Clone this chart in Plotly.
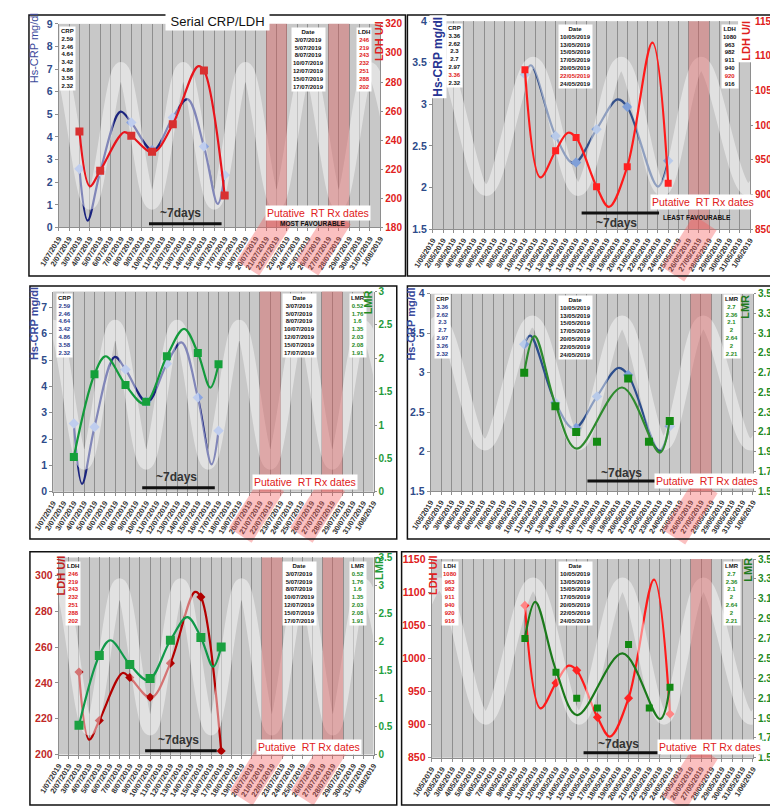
import plotly.graph_objects as go

W, H = 778, 806

# ---- measured values (tables in the chart) ----
july_dates = ["2019-07-03", "2019-07-05", "2019-07-08", "2019-07-10", "2019-07-12", "2019-07-15", "2019-07-17"]
july_crp = [2.59, 2.46, 4.64, 3.42, 4.86, 3.58, 2.32]
july_ldh = [246, 219, 243, 232, 251, 288, 202]
july_lmr = [0.52, 1.76, 1.6, 1.35, 2.03, 2.08, 1.91]

may_dates = ["2019-05-10", "2019-05-13", "2019-05-15", "2019-05-17", "2019-05-20", "2019-05-22", "2019-05-24"]
may_crp = [3.36, 2.62, 2.3, 2.7, 2.97, 3.36, 2.32]
may_crp_lmr_panel = [3.36, 2.62, 2.3, 2.7, 2.97, 3.26, 2.32]
may_ldh = [1080, 963, 982, 911, 940, 920, 916]
may_lmr = [2.7, 2.36, 2.1, 2, 2.64, 2, 2.21]
may_flagged = 5  # 22/05 row, not plotted for CRP / LDH

# ---- trend curves (knots) ----
crp_jul_fit_x = ["2019-07-03", "2019-07-03 19:00", "2019-07-05", "2019-07-06 23:00", "2019-07-08", "2019-07-10 02:00",
                 "2019-07-12", "2019-07-13 10:00", "2019-07-15", "2019-07-16 08:00", "2019-07-17"]
crp_jul_fit_y = [2.59, 0.3, 2.46, 5.12, 4.64, 3.4, 4.86, 5.67, 3.58, 1.04, 2.32]

ldh_jul_fit_x = ["2019-07-03", "2019-07-04", "2019-07-05", "2019-07-07 07:00", "2019-07-08", "2019-07-10 02:00",
                 "2019-07-12", "2019-07-14 10:00", "2019-07-15", "2019-07-17"]
ldh_jul_fit_y = [246, 208.3, 219, 245.5, 243, 231.6, 251, 290.8, 288, 202]

lmr_jul_fit_x = ["2019-07-03", "2019-07-05", "2019-07-06 02:00", "2019-07-08", "2019-07-09 20:00", "2019-07-12",
                 "2019-07-13 16:00", "2019-07-15", "2019-07-16 05:00", "2019-07-17"]
lmr_jul_fit_y = [0.52, 1.76, 2.03, 1.6, 1.32, 2.03, 2.44, 2.08, 1.56, 1.91]

crp_may_fit_x = ["2019-05-10", "2019-05-10 14:00", "2019-05-13", "2019-05-14 19:00", "2019-05-17", "2019-05-19 01:00",
                 "2019-05-20", "2019-05-23", "2019-05-24"]
crp_may_fit_y = [3.36, 3.47, 2.62, 2.29, 2.7, 3.06, 2.97, 2.01, 2.32]

ldh_may_fit_x = ["2019-05-10", "2019-05-11 12:00", "2019-05-13", "2019-05-14 05:00", "2019-05-15", "2019-05-17",
                 "2019-05-18 05:00", "2019-05-20", "2019-05-22 11:00", "2019-05-24"]
ldh_may_fit_y = [1080, 924.5, 963, 989, 982, 911, 882, 940, 1119, 916]

lmr_may_fit_x = ["2019-05-10", "2019-05-11", "2019-05-13", "2019-05-15 01:00", "2019-05-19 10:00", "2019-05-23 01:00",
                 "2019-05-24"]
lmr_may_fit_y = [2.7, 3.07, 2.38, 1.93, 2.55, 1.89, 2.23]

# white background wave: trough / peak dates
wave_jul_x = ["2019-06-28", "2019-07-01", "2019-07-04", "2019-07-07", "2019-07-10", "2019-07-13", "2019-07-16",
              "2019-07-19", "2019-07-22", "2019-07-25", "2019-07-28", "2019-07-31", "2019-08-03"]
wave_may_x = ["2019-04-27 10:00", "2019-05-01 19:00", "2019-05-06 05:00", "2019-05-10 19:00", "2019-05-15 05:00",
              "2019-05-19 10:00", "2019-05-23 10:00", "2019-05-27 05:00", "2019-05-31 19:00", "2019-06-05"]

# putative RT dates (shaded)
rt_jul = [("2019-07-21", "2019-07-23"), ("2019-07-27", "2019-07-29")]
rt_may = [("2019-05-26", "2019-05-28")]


def px(x):
    return x / W


def py(y):
    return 1 - y / H


def yid(k):
    return "y" if k == 1 else f"y{k}"


def label(d):
    y, m, dd = d.split("-")
    return f"{int(dd)}/{m}/{y}"


fig = go.Figure()
layout = {}
shapes = []
annotations = []

panels = [
    dict(n=1, box=(31.7, 364, 10, 216.7), month="jul",
         left=dict(name="CRP", range=[0, 9], dtick=1, tick0=0, color="#2e4b8a"),
         right=dict(name="LDH", range=[180, 320], dtick=20, tick0=180, color="#e02020"),
         wave=(7.05, 1.05)),
    dict(n=2, box=(418.3, 746, 7.3, 218.3), month="may",
         left=dict(name="CRP", range=[1.5, 4], dtick=0.5, tick0=1.5, color="#2e4b8a"),
         right=dict(name="LDH", range=[850, 1150], dtick=50, tick0=850, color="#e02020"),
         wave=(3.5, 1.97)),
    dict(n=3, box=(26, 357, 281.7, 485), month="jul",
         left=dict(name="CRP", range=[0, 7.6], dtick=1, tick0=0, color="#2e4b8a"),
         right=dict(name="LMR", range=[0, 3], dtick=0.5, tick0=0, color="#1f9a3a"),
         wave=(6.3, 1.06)),
    dict(n=4, box=(416, 749, 284, 484.3), month="may",
         left=dict(name="CRP", range=[1.5, 4], dtick=0.5, tick0=1.5, color="#2e4b8a"),
         right=dict(name="LMR", range=[1.5, 3.5], dtick=0.2, tick0=1.5, color="#1f8a1f"),
         wave=(3.65, 2.09)),
    dict(n=5, box=(31.7, 357, 551.7, 751.7), month="jul",
         left=dict(name="LDH", range=[200, 310], dtick=20, tick0=200, color="#c02828"),
         right=dict(name="LMR", range=[0, 3.5], dtick=0.5, tick0=0, color="#1fa040"),
         wave=(295, 214)),
    dict(n=6, box=(417, 749, 553.3, 755), month="may",
         left=dict(name="LDH", range=[850, 1150], dtick=50, tick0=850, color="#e02020"),
         right=dict(name="LMR", range=[1.5, 3.5], dtick=0.2, tick0=1.5, color="#1f8a1f"),
         wave=(1113, 909)),
]

series_style = {
    (1, "CRP"): dict(line="#1a237e", marker="#8aa4e0", symbol="diamond", size=8),
    (1, "LDH"): dict(line="#e8141c", marker="#d83030", symbol="square", size=8),
    (2, "CRP"): dict(line="#34508a", marker="#7f9fd8", symbol="diamond", size=8),
    (2, "LDH"): dict(line="#ff1a1a", marker="#ff2020", symbol="square", size=7),
    (3, "CRP"): dict(line="#1a237e", marker="#8aa4e0", symbol="diamond", size=8),
    (3, "LMR"): dict(line="#139a3c", marker="#14a03a", symbol="square", size=8),
    (4, "CRP"): dict(line="#2c4d8c", marker="#7f9fd8", symbol="diamond", size=8),
    (4, "LMR"): dict(line="#2e8b2e", marker="#138a13", symbol="square", size=8),
    (5, "LDH"): dict(line="#b30000", marker="#b00000", symbol="diamond", size=7),
    (5, "LMR"): dict(line="#11994a", marker="#1aa040", symbol="square", size=9),
    (6, "LDH"): dict(line="#ff1a1a", marker="#ff2222", symbol="diamond", size=7),
    (6, "LMR"): dict(line="#1b7a1b", marker="#118811", symbol="square", size=7),
}

data = {
    ("jul", "CRP"): (july_dates, july_crp, crp_jul_fit_x, crp_jul_fit_y),
    ("jul", "LDH"): (july_dates, july_ldh, ldh_jul_fit_x, ldh_jul_fit_y),
    ("jul", "LMR"): (july_dates, july_lmr, lmr_jul_fit_x, lmr_jul_fit_y),
    ("may", "CRP"): (may_dates, may_crp, crp_may_fit_x, crp_may_fit_y),
    ("may", "LDH"): (may_dates, may_ldh, ldh_may_fit_x, ldh_may_fit_y),
    ("may", "LMR"): (may_dates, may_lmr, lmr_may_fit_x, lmr_may_fit_y),
}

for p in panels:
    n = p["n"]
    x0, x1, y0, y1 = p["box"]
    xref = "x" if n == 1 else f"x{n}"
    yl, yr = 2 * n - 1, 2 * n
    start, end = ("2019-07-01", "2019-08-01") if p["month"] == "jul" else ("2019-05-01", "2019-06-01")

    layout["xaxis" if n == 1 else f"xaxis{n}"] = dict(
        domain=[px(x0), px(x1)], anchor=yid(yl), type="date", range=[start, end],
        tick0=start, dtick=86400000, tickformat="%-d/%m/%Y", tickangle=-58,
        tickfont=dict(size=7.5, color="#333333", weight="bold"),
        showgrid=True, gridcolor="#8e8e8e", gridwidth=1,
        showline=True, linecolor="#8e8e8e", ticks="outside", ticklen=3, tickcolor="#8e8e8e",
    )
    for k, side, ax in ((yl, "left", p["left"]), (yr, "right", p["right"])):
        spec = dict(
            anchor=xref, range=ax["range"], dtick=ax["dtick"], tick0=ax["tick0"], side=side,
            tickfont=dict(size=10.5 if side == "left" else 10, color=ax["color"], weight="bold"),
            showgrid=False, zeroline=False, showline=True, linecolor="#8e8e8e",
            ticks="outside", ticklen=3 if side == "left" else 2, tickcolor="#8e8e8e",
        )
        if side == "left":
            spec["domain"] = [py(y1), py(y0)]
        else:
            spec["overlaying"] = yid(yl)
        layout["yaxis" if k == 1 else f"yaxis{k}"] = spec

    for k, ax in ((yr, p["right"]), (yl, p["left"])):
        st = series_style[(n, ax["name"])]
        xs, ys, fx, fy = data[(p["month"], ax["name"])]
        if p["month"] == "may" and ax["name"] in ("CRP", "LDH"):
            xs = [d for i, d in enumerate(xs) if i != may_flagged]
            ys = [v for i, v in enumerate(ys) if i != may_flagged]
        fig.add_trace(go.Scatter(x=fx, y=fy, mode="lines", xaxis=xref, yaxis=yid(k),
                                 line=dict(color=st["line"], width=2.2, shape="spline", smoothing=1.0),
                                 showlegend=False, hoverinfo="skip"))
        fig.add_trace(go.Scatter(x=xs, y=ys, mode="markers", xaxis=xref, yaxis=yid(k),
                                 marker=dict(color=st["marker"], symbol=st["symbol"], size=st["size"]),
                                 showlegend=False))

    peak, trough = p["wave"]
    wx = wave_jul_x if p["month"] == "jul" else wave_may_x
    wy = [trough if i % 2 == 0 else peak for i in range(len(wx))]
    fig.add_trace(go.Scatter(x=wx, y=wy, mode="lines", xaxis=xref, yaxis=yid(yl),
                             line=dict(color="rgba(255,255,255,0.45)", width=12, shape="spline", smoothing=1.0),
                             showlegend=False, hoverinfo="skip"))

    for a, b in (rt_jul if p["month"] == "jul" else rt_may):
        shapes.append(dict(type="rect", xref=xref, yref="paper", x0=a, x1=b, y0=py(y1), y1=py(y0),
                           fillcolor="rgba(220,90,90,0.42)", line=dict(width=0), layer="above"))

fig.update_layout(**layout)


def rhombus(cx, cy, half_len=31, half_w=14):
    ux, uy = 0.54, -0.84
    vx, vy = 0.84, 0.54
    pts = [(cx + half_len * ux + half_w * vx, cy + half_len * uy + half_w * vy),
           (cx + half_len * ux - half_w * vx, cy + half_len * uy - half_w * vy),
           (cx - half_len * ux - half_w * vx, cy - half_len * uy - half_w * vy),
           (cx - half_len * ux + half_w * vx, cy - half_len * uy + half_w * vy)]
    path = "M " + " L ".join(f"{px(x):.4f},{py(y):.4f}" for x, y in pts) + " Z"
    return dict(type="path", xref="paper", yref="paper", path=path,
                fillcolor="rgba(245,90,90,0.38)", line=dict(width=0), layer="above")


for cx, cy in [(244, 232), (305, 232), (683, 238), (236, 503), (299, 503), (684, 505), (237, 770), (300, 770),
               (684, 775)]:
    shapes.append(rhombus(cx, cy))

# panel frames
for a, b, c, d in [(1, 1, 390, 266), (392, 1, 777, 266), (2, 276, 381, 533), (392, 276, 777, 533),
                   (2, 546, 381, 803), (386, 546, 777, 803)]:
    shapes.append(dict(type="rect", xref="paper", yref="paper", x0=px(a), x1=px(c), y0=py(d), y1=py(b),
                       line=dict(color="#111111", width=1.5), fillcolor="rgba(0,0,0,0)"))

# ~7days bars
for a, b, y in [(125, 200, 213), (572, 652, 202), (118, 193, 481), (578, 657, 474), (121, 195, 748), (574, 654, 750)]:
    shapes.append(dict(type="line", xref="paper", yref="paper", x0=px(a), x1=px(b), y0=py(y), y1=py(y),
                       line=dict(color="#111111", width=3)))


def note(x, y, text, size=7, color="#111111", bg=None, xanchor="center", yanchor="middle", angle=0, align="center"):
    annotations.append(dict(x=px(x), y=py(y), xref="paper", yref="paper", text=text, showarrow=False,
                            font=dict(size=size, color=color, family="Arial"), bgcolor=bg, borderpad=1,
                            xanchor=xanchor, yanchor=yanchor, textangle=angle, align=align))


def table(x, y, title, values, color="#111111", special=None, size=6):
    rows = [f"<b>{title}</b>"]
    for i, v in enumerate(values):
        c = special.get(i, color) if special else color
        rows.append(f"<b><span style='color:{c}'>{v}</span></b>")
    note(x, y, "<br>".join(rows), size=size, bg="white", yanchor="top")


jul_labels = [label(d) for d in july_dates]
may_labels = [label(d) for d in may_dates]
red = "#e02020"
navy = "#2a3a8a"
green = "#1f8a1f"

# panel 1
table(41, 12, "CRP", july_crp)
table(290, 13, "Date", jul_labels)
table(347, 13, "LDH", july_ldh, color=red)
# panel 2
table(441, 9, "CRP", may_crp, special={may_flagged: red})
table(566, 10, "Date", may_labels, special={may_flagged: red})
table(725, 10, "LDH", may_ldh, special={may_flagged: red})
# panel 3
table(38, 283, "CRP", july_crp, color=navy)
table(281, 283, "Date", jul_labels)
table(341, 283, "LMR", july_lmr, color=green)
# panel 4
table(428, 284, "CRP", may_crp_lmr_panel, color=navy)
table(566, 285, "Date", may_labels)
table(727, 284, "LMR", may_lmr, color=green)
# panel 5
table(47, 555, "LDH", july_ldh, color=red)
table(281, 555, "Date", jul_labels)
table(341, 555, "LMR", july_lmr, color=green)
# panel 6
table(436, 555, "LDH", may_ldh, color=red)
table(566, 555, "Date", may_labels)
table(727, 555, "LMR", may_lmr, color=green)

# axis titles
note(7, 35, "Hs-CRP mg/dl", size=11, color="#3b4a9c", angle=-90)
note(362, 27, "<b>LDH U/l</b>", size=11, color=red, angle=-90)
note(424, 43, "<b>Hs-CRP mg/dl</b>", size=12, color="#283593", angle=-90, bg="white")
note(741, 27, "<b>LDH U/l</b>", size=11, color=red, angle=-90, bg="white")
note(7, 314, "<b>Hs-CRP mg/dl</b>", size=11, color="#3b4a9c", angle=-90)
note(351, 293, "<b>LMR</b>", size=11, color="#1f8a1f", angle=-90)
note(396, 315, "<b>Hs-CRP mg/dl</b>", size=11, color="#3b4a9c", angle=-90)
note(740, 297, "<b>LMR</b>", size=11, color="#1f7a1f", angle=-90)
note(34, 570, "<b>LDH U/l</b>", size=11, color="#c02020", angle=-90)
note(362, 562, "<b>LMR</b>", size=11, color="#1f9a3a", angle=-90)
note(418, 570, "<b>LDH U/l</b>", size=11, color=red, angle=-90)
note(743, 564, "<b>LMR</b>", size=11, color="#1f7a1f", angle=-90)

# title and labels
note(196, 8, " Serial CRP/LDH ", size=13, color="#111111", bg="white")
for x, y in [(158, 202), (608, 212), (153, 470), (613, 466), (156, 737), (610, 741)]:
    note(x, y, "<b>~7days</b>", size=12, color="#333333")
for x, y in [(300, 202), (697, 191), (286, 475), (702, 474), (290, 744), (705, 744)]:
    note(x, y, "Putative  RT Rx dates", size=10.5, color=red, bg="white")
note(294, 213, "<b>MOST FAVOURABLE</b>", size=6.5)
note(691, 207, "<b>LEAST FAVOURABLE</b>", size=6.5)

fig.update_layout(
    width=W, height=H, margin=dict(l=0, r=0, t=0, b=0),
    paper_bgcolor="white", plot_bgcolor="#c8c8c8",
    font=dict(family="Arial"),
    shapes=shapes, annotations=annotations, showlegend=False,
)

fig.write_html("out.html")
